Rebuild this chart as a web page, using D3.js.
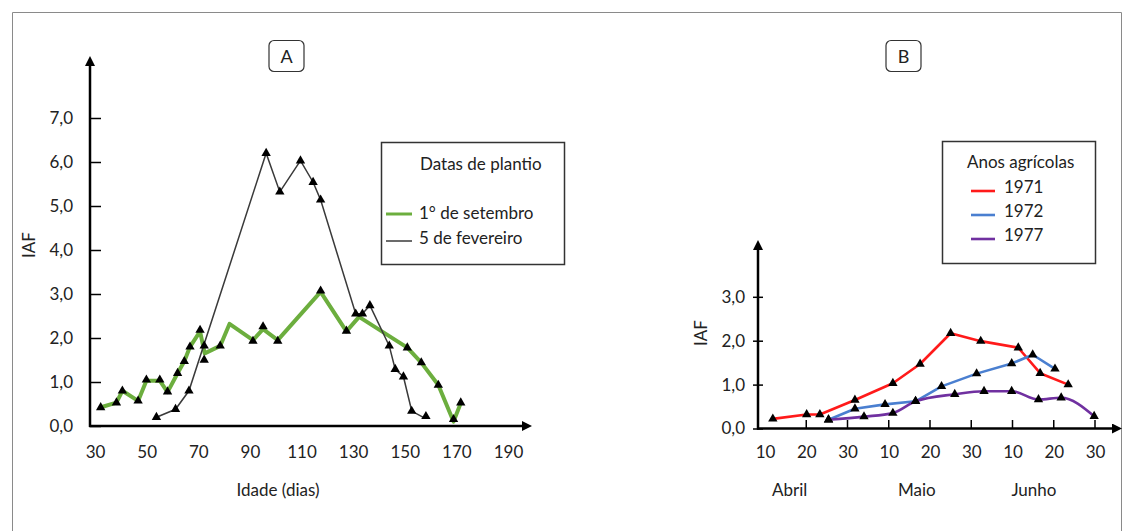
<!DOCTYPE html>
<html>
<head>
<meta charset="utf-8">
<script src="https://cdn.jsdelivr.net/npm/d3@7"></script>
<style>
  body { margin: 0; background: #fff; }
  text { font-family: Lato, "Open Sans", sans-serif; fill: #222; }
</style>
</head>
<body>
<svg id="chart" width="1134" height="531"></svg>
<script>
// ---- panel A data: IAF vs age (days)
const ageTicksA = [30, 50, 70, 90, 110, 130, 150, 170, 190];
const iafTicksA = [0, 1, 2, 3, 4, 5, 6, 7];

const setembroLine = [[32, 0.42], [38.3, 0.53], [40.6, 0.8], [46.7, 0.57], [49.9, 1.03], [55.1, 1.03],
  [58.1, 0.77], [62, 1.2], [64.6, 1.47], [66.8, 1.8], [70.7, 2.15], [72.5, 1.65], [78.5, 1.82],
  [82.1, 2.32], [91.2, 1.95], [95.1, 2.2], [100.8, 1.95], [117.4, 3.05], [127.4, 2.15], [132.3, 2.48],
  [151, 1.78], [156.4, 1.44], [163, 0.93], [168.9, 0.1], [171.7, 0.52]];
const setembroMarks = [[32.2, 0.42], [38.3, 0.53], [40.6, 0.8], [46.7, 0.57], [49.9, 1.05], [55.1, 1.05],
  [58.1, 0.78], [62, 1.2], [64.6, 1.47], [66.8, 1.8], [70.7, 2.18], [72.3, 1.82], [78.5, 1.82],
  [91.2, 1.93], [95.1, 2.26], [100.8, 1.93], [117.4, 3.07], [127.4, 2.16], [151, 1.78],
  [156.4, 1.44], [163, 0.93], [168.9, 0.15], [171.7, 0.53]];

const fevereiroLine = [[53.8, 0.2], [61.2, 0.38], [66.4, 0.8], [96.3, 6.2], [101.6, 5.32], [109.6, 6.03],
  [114.5, 5.54], [117.4, 5.14], [131, 2.55], [133.6, 2.55], [136.5, 2.74], [144, 1.82], [146.3, 1.29],
  [149.5, 1.12], [152.7, 0.34], [157, 0.2]];
const fevereiroMarks = [[53.8, 0.2], [61.2, 0.38], [66.4, 0.8], [72.3, 1.5], [96.3, 6.2], [101.6, 5.32],
  [109.6, 6.03], [114.5, 5.54], [117.4, 5.14], [131, 2.55], [133.6, 2.55], [136.5, 2.74], [144, 1.82],
  [146.3, 1.29], [149.5, 1.12], [152.7, 0.34], [158.2, 0.22]];

// ---- panel B data: IAF vs date (day 10 = 10 Abril ... day 90 = 30 Junho)
const dayTicksB = [10, 20, 30, 40, 50, 60, 70, 80, 90];
const dayLabelsB = ["10", "20", "30", "10", "20", "30", "10", "20", "30"];
const months = ["Abril", "Maio", "Junho"];
const monthDays = [16, 46.8, 75.2];
const iafTicksB = [0, 1, 2, 3];

const ano1971 = [[11.9, 0.22], [20.1, 0.32], [23.3, 0.32], [31.8, 0.65], [41, 1.03], [47.6, 1.47],
  [55, 2.17], [62.3, 1.99], [71.4, 1.84], [76.7, 1.26], [83.5, 1.0]];
const ano1972 = [[25.4, 0.2], [31.8, 0.45], [39.1, 0.55], [46.5, 0.62], [52.8, 0.96], [61.3, 1.25],
  [69.8, 1.48], [74.9, 1.68], [80.3, 1.36]];
const ano1977 = [[25.4, 0.2], [34, 0.27], [41, 0.35], [46.5, 0.62], [56, 0.78], [63.1, 0.85],
  [69.8, 0.85], [76.3, 0.66], [81.8, 0.7], [89.8, 0.28]];

const svg = d3.select("#chart");
const fs = "17px";

// outer frame
svg.append("path")
  .attr("d", "M12.5,540 V12.5 H1121.5 V540")
  .attr("fill", "none").attr("stroke", "#8a8a8a").attr("stroke-width", 1);

const defs = svg.append("defs");
defs.append("marker")
  .attr("id", "arrow")
  .attr("viewBox", "0 0 10 10")
  .attr("refX", 2).attr("refY", 5)
  .attr("markerWidth", 4).attr("markerHeight", 4)
  .attr("orient", "auto-start-reverse")
  .append("path").attr("d", "M0,0 L10,5 L0,10 z").attr("fill", "#000");

const tri = d3.symbol().type(d3.symbolTriangle).size(38);

function panelLabel(cx, letter) {
  svg.append("rect").attr("x", cx - 17).attr("y", 40.5).attr("width", 35).attr("height", 31)
    .attr("rx", 5).attr("fill", "#fff").attr("stroke", "#333").attr("stroke-width", 1.2);
  svg.append("text").attr("x", cx + 0.5).attr("y", 56).attr("text-anchor", "middle")
    .attr("dominant-baseline", "central").style("font-size", "18px").text(letter);
}

function drawMarks(g, pts, x, y) {
  g.selectAll(null).data(pts).join("path")
    .attr("d", tri)
    .attr("transform", d => `translate(${x(d[0])},${y(d[1])})`)
    .attr("fill", "#000");
}

// ================= Panel A =================
const xA = d3.scaleLinear().domain([30, 190]).range([95, 508]);
const yA = d3.scaleLinear().domain([0, 7]).range([426, 118]);
const gA = svg.append("g");

panelLabel(286, "A");

gA.append("g")
  .attr("transform", "translate(90,0)")
  .call(d3.axisLeft(yA).tickValues(iafTicksA).tickSizeInner(-11).tickSizeOuter(0).tickPadding(17)
    .tickFormat(d => d3.format(".1f")(d).replace(".", ",")))
  .call(g => g.select(".domain").remove())
  .call(g => g.selectAll(".tick line").attr("stroke", "#000").attr("stroke-width", 1.5))
  .call(g => g.selectAll(".tick text").style("font-size", fs).attr("fill", "#222"));

gA.append("g")
  .attr("transform", "translate(0,426)")
  .call(d3.axisBottom(xA).tickValues(ageTicksA).tickSize(0).tickPadding(20))
  .call(g => g.select(".domain").remove())
  .call(g => g.selectAll(".tick text").style("font-size", fs).attr("fill", "#222"));

// axis lines with arrows
gA.append("line").attr("x1", 90).attr("y1", 427).attr("x2", 90).attr("y2", 64)
  .attr("stroke", "#000").attr("stroke-width", 2.5).attr("marker-end", "url(#arrow)");
gA.append("line").attr("x1", 89).attr("y1", 426).attr("x2", 524).attr("y2", 426)
  .attr("stroke", "#000").attr("stroke-width", 2.5).attr("marker-end", "url(#arrow)");

gA.append("text").attr("transform", "translate(28,245) rotate(-90)")
  .attr("text-anchor", "middle").attr("dominant-baseline", "central")
  .style("font-size", fs).text("IAF");
gA.append("text").attr("x", 278).attr("y", 489).attr("text-anchor", "middle")
  .attr("dominant-baseline", "central").style("font-size", fs).text("Idade (dias)");

const lineA = d3.line().x(d => xA(d[0])).y(d => yA(d[1]));
gA.append("path").datum(setembroLine).attr("d", lineA)
  .attr("fill", "none").attr("stroke", "#6cae3e").attr("stroke-width", 4).attr("stroke-linejoin", "round");
gA.append("path").datum(fevereiroLine).attr("d", lineA)
  .attr("fill", "none").attr("stroke", "#3a3a3a").attr("stroke-width", 1.5);
drawMarks(gA, setembroMarks, xA, yA);
drawMarks(gA, fevereiroMarks, xA, yA);

// legend A
const legA = svg.append("g");
legA.append("rect").attr("x", 381.5).attr("y", 142.5).attr("width", 183).attr("height", 122)
  .attr("fill", "#fff").attr("stroke", "#333").attr("stroke-width", 1.5);
legA.append("text").attr("x", 420).attr("y", 163).attr("dominant-baseline", "central")
  .style("font-size", fs).text("Datas de plantio");
legA.append("line").attr("x1", 386).attr("x2", 412).attr("y1", 214).attr("y2", 214)
  .attr("stroke", "#6cae3e").attr("stroke-width", 3);
legA.append("text").attr("x", 419).attr("y", 212).attr("dominant-baseline", "central")
  .style("font-size", fs).text("1° de setembro");
legA.append("line").attr("x1", 386).attr("x2", 412).attr("y1", 241).attr("y2", 241)
  .attr("stroke", "#3a3a3a").attr("stroke-width", 1.5);
legA.append("text").attr("x", 419).attr("y", 237).attr("dominant-baseline", "central")
  .style("font-size", fs).text("5 de fevereiro");

// ================= Panel B =================
const xB = d3.scaleLinear().domain([10, 90]).range([765, 1095]);
const yB = d3.scaleLinear().domain([0, 3]).range([428.5, 296.8]);
const gB = svg.append("g");

panelLabel(903, "B");

gB.append("g")
  .attr("transform", "translate(758,0)")
  .call(d3.axisLeft(yB).tickValues(iafTicksB).tickSizeInner(5).tickSizeOuter(0).tickPadding(8)
    .tickFormat(d => d3.format(".1f")(d).replace(".", ",")))
  .call(g => g.select(".domain").remove())
  .call(g => g.selectAll(".tick line").attr("x2", -5).attr("x1", 5).attr("stroke", "#000").attr("stroke-width", 1.5))
  .call(g => g.selectAll(".tick text").style("font-size", fs).attr("fill", "#222"));

gB.append("g")
  .attr("transform", "translate(0,428.5)")
  .call(d3.axisBottom(xB).tickValues(dayTicksB).tickSize(0).tickPadding(17)
    .tickFormat((d, i) => dayLabelsB[i]))
  .call(g => g.select(".domain").remove())
  .call(g => g.selectAll(".tick text").style("font-size", fs).attr("fill", "#222"));

gB.selectAll(".xtickB").data(dayTicksB.slice(1)).join("line")
  .attr("class", "xtickB")
  .attr("x1", d => xB(d)).attr("x2", d => xB(d))
  .attr("y1", 428).attr("y2", 420)
  .attr("stroke", "#000").attr("stroke-width", 1.5);

gB.selectAll(".month").data(months).join("text")
  .attr("class", "month")
  .attr("x", (d, i) => xB(monthDays[i])).attr("y", 489)
  .attr("text-anchor", "middle").attr("dominant-baseline", "central")
  .style("font-size", fs).text(d => d);

gB.append("line").attr("x1", 758).attr("y1", 429.5).attr("x2", 758).attr("y2", 248)
  .attr("stroke", "#000").attr("stroke-width", 2.5).attr("marker-end", "url(#arrow)");
gB.append("line").attr("x1", 757).attr("y1", 428.5).attr("x2", 1114).attr("y2", 428.5)
  .attr("stroke", "#000").attr("stroke-width", 2.5).attr("marker-end", "url(#arrow)");

gB.append("text").attr("transform", "translate(700,333) rotate(-90)")
  .attr("text-anchor", "middle").attr("dominant-baseline", "central")
  .style("font-size", fs).text("IAF");

const seriesB = [
  {name: "1971", color: "#ff1a1a", pts: ano1971, curve: d3.curveLinear},
  {name: "1972", color: "#4a7fd0", pts: ano1972, curve: d3.curveLinear},
  {name: "1977", color: "#7030a0", pts: ano1977, curve: d3.curveMonotoneX}
];
gB.selectAll(".lineB").data(seriesB).join("path")
  .attr("class", "lineB")
  .attr("d", d => d3.line().x(p => xB(p[0])).y(p => yB(p[1])).curve(d.curve)(d.pts))
  .attr("fill", "none").attr("stroke", d => d.color).attr("stroke-width", 2.6)
  .attr("stroke-linejoin", "round");
seriesB.forEach(s => drawMarks(gB, s.pts, xB, yB));

// legend B
const legB = svg.append("g");
legB.append("rect").attr("x", 942.5).attr("y", 141.5).attr("width", 153).attr("height", 122)
  .attr("fill", "#fff").attr("stroke", "#333").attr("stroke-width", 1.5);
legB.append("text").attr("x", 967).attr("y", 161).attr("dominant-baseline", "central")
  .style("font-size", fs).text("Anos agrícolas");
seriesB.forEach((s, i) => {
  const yy = 186 + i * 24;
  legB.append("line").attr("x1", 971).attr("x2", 995).attr("y1", yy + 5).attr("y2", yy + 5)
    .attr("stroke", s.color).attr("stroke-width", 2.6);
  legB.append("text").attr("x", 1004).attr("y", yy).attr("dominant-baseline", "central")
    .style("font-size", fs).text(s.name);
});
</script>
</body>
</html>
